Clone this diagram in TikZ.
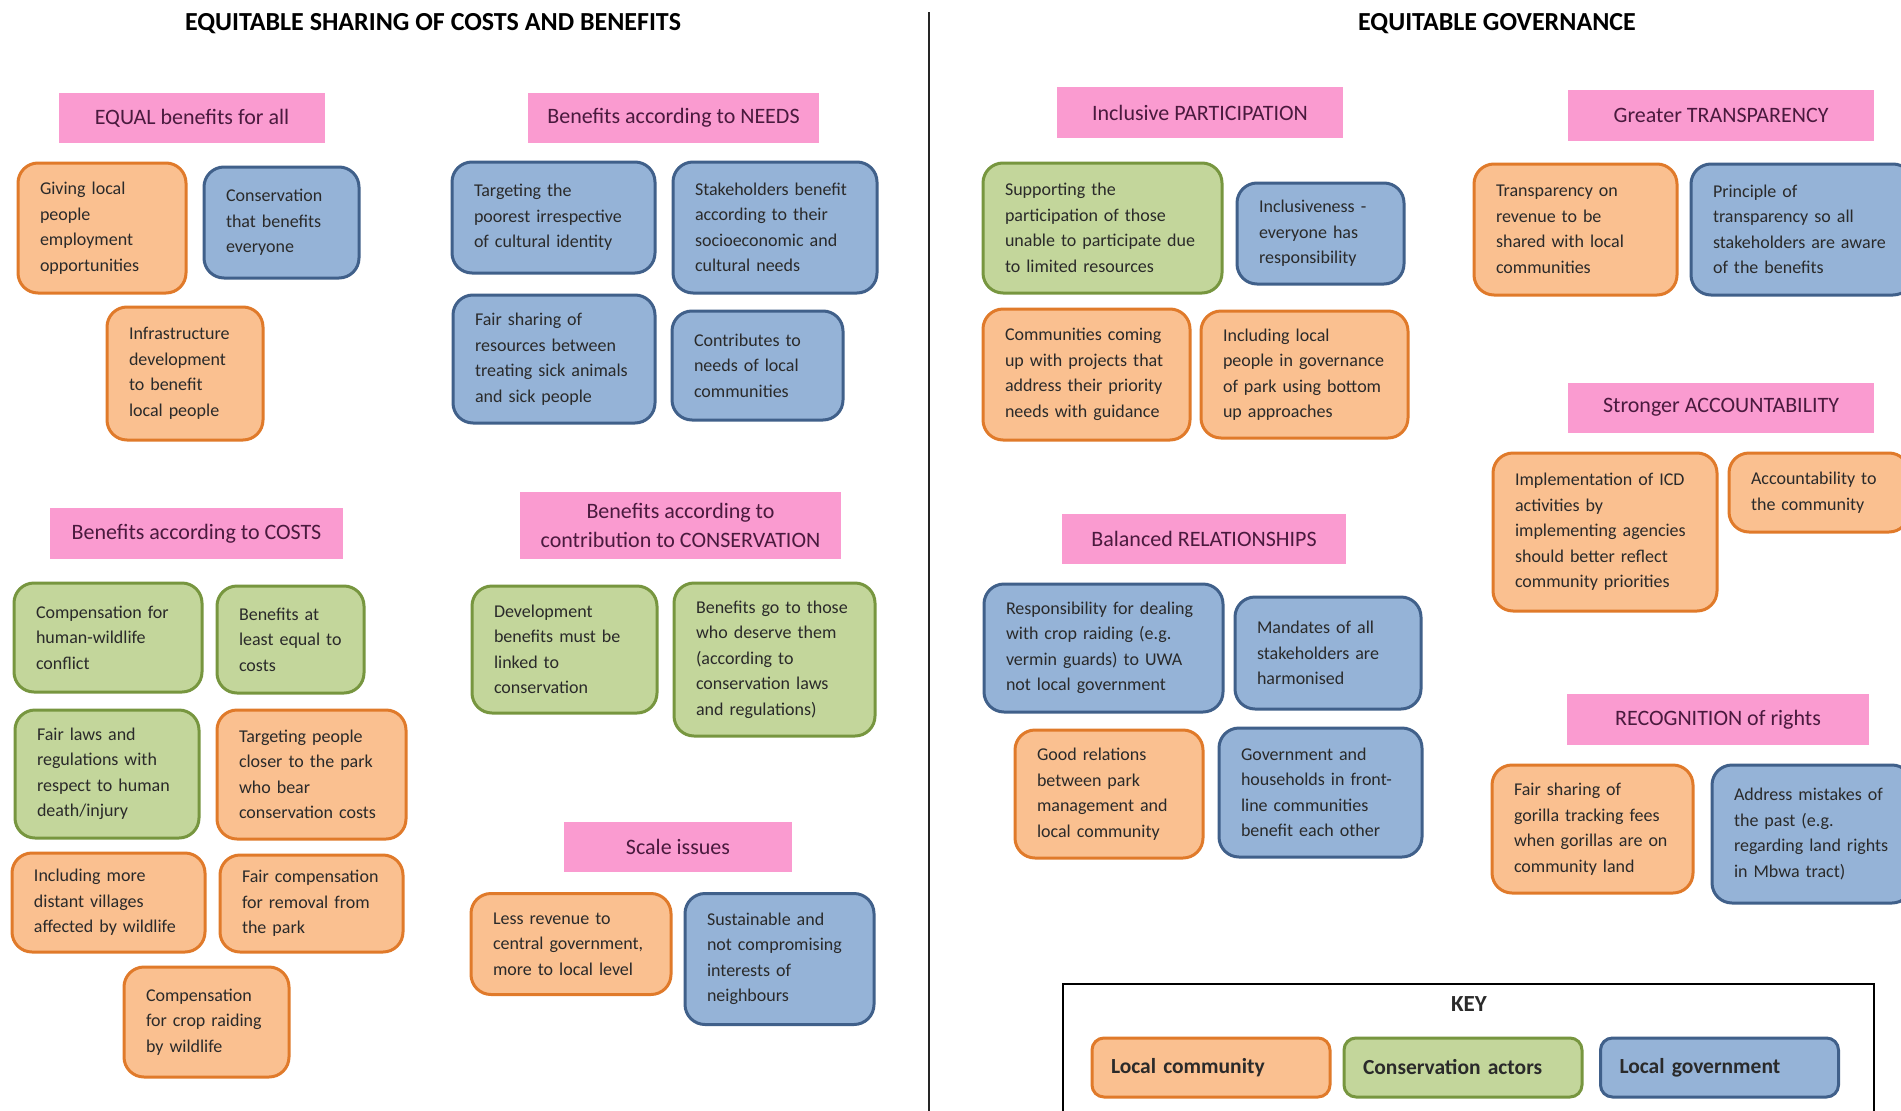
\documentclass[tikz,border=0pt]{standalone}
\usepackage{fontspec}
\setmainfont{Carlito}
\definecolor{commfill}{HTML}{FAC090}
\definecolor{commline}{HTML}{E07A2A}
\definecolor{consfill}{HTML}{C3D69B}
\definecolor{consline}{HTML}{77963F}
\definecolor{govfill}{HTML}{95B3D7}
\definecolor{govline}{HTML}{40608A}
\definecolor{pinkfill}{HTML}{FA9BD0}
\definecolor{pinktext}{HTML}{4A1A3E}
\definecolor{boxtext}{HTML}{2A2A2A}
\tikzset{idea/.style 2 args={draw,line width=3pt,rounded corners=20pt,minimum width=#1pt,minimum height=#2pt,text width={#1pt-44pt},inner xsep=22pt,inner ysep=4pt,align=left,text=boxtext,font=\fontsize{18}{25.5}\selectfont}}
\tikzset{comm/.style={fill=commfill,draw=commline},cons/.style={fill=consfill,draw=consline},gov/.style={fill=govfill,draw=govline}}
\tikzset{heading/.style 2 args={fill=pinkfill,minimum width=#1pt,minimum height=#2pt,inner sep=0pt,align=center,text=pinktext,font=\fontsize{22}{29}\selectfont}}
\tikzset{sechead/.style={font=\fontsize{26}{30}\selectfont\bfseries,text=black}}
\tikzset{keybox/.style={draw,line width=3pt,rounded corners=12pt,minimum width=238pt,minimum height=59pt,text width=200pt,inner xsep=19pt,align=left,text=boxtext,font=\fontsize{21.5}{24}\selectfont\bfseries}}

\begin{document}
\begin{tikzpicture}[x=1pt,y=-1pt]
	\useasboundingbox[fill=white] (0,0) rectangle (1901,1111);
	\coordinate (divtop) at (929,12);
	\coordinate (divbot) at (929,1111);
	\draw[line width=2.5pt,black!85] (divtop) -- (divbot);
	\node[sechead] (lhead) at (433,24) {EQUITABLE SHARING OF COSTS AND BENEFITS};
	\node[sechead] (rhead) at (1497,24) {EQUITABLE GOVERNANCE};

	\node[heading={266}{50}] (equal) at (192,118) {EQUAL benefits for all};
	\node[idea={168}{130},comm] (giving) at (102,228) {Giving local\\people\\employment\\opportunities};
	\node[idea={155}{111},gov] (consben) at (281.5,222.5) {Conservation\\that benefits\\everyone};
	\node[idea={156}{133},comm] (infra) at (185,373.5) {Infrastructure\\development\\to benefit\\local people};

	\node[heading={291}{50}] (needs) at (673.5,118) {Benefits according to NEEDS};
	\node[idea={203}{111},gov] (poorest) at (553.5,217.5) {Targeting the\\poorest irrespective\\of cultural identity};
	\node[idea={204}{131},gov] (stake) at (775,227.5) {Stakeholders benefit\\according to their\\socioeconomic and\\cultural needs};
	\node[idea={202}{128},gov] (sickness) at (554,359) {Fair sharing of\\resources between\\treating sick animals\\and sick people};
	\node[idea={171}{109},gov] (contrib) at (757.5,365.5) {Contributes to\\needs of local\\communities};

	\node[heading={293}{51}] (costs) at (196.5,533.5) {Benefits according to COSTS};
	\node[idea={188}{109},cons] (hwc) at (108,637.5) {Compensation for\\human-wildlife\\conflict};
	\node[idea={147}{107},cons] (atleast) at (290.5,639.5) {Benefits at\\least equal to\\costs};
	\node[idea={184}{128},cons] (fairlaws) at (107,774) {Fair laws and\\regulations with\\respect to human\\death/injury};
	\node[idea={189}{129},comm] (closer) at (311.5,774.5) {Targeting people\\closer to the park\\who bear\\conservation costs};
	\node[idea={193}{99},comm] (distant) at (108.5,902.5) {Including more\\distant villages\\affected by wildlife};
	\node[idea={183}{97},comm] (removal) at (311.5,903.5) {Fair compensation\\for removal from\\the park};
	\node[idea={165}{110},comm] (crop) at (206.5,1022) {Compensation\\for crop raiding\\by wildlife};

	\node[heading={321}{67}] (contribution) at (680.5,525.5) {Benefits according to\\contribution to CONSERVATION};
	\node[idea={185}{127},cons] (linked) at (564.5,649.5) {Development\\benefits must be\\linked to\\conservation};
	\node[idea={201}{153},cons] (deserve) at (774.5,659.5) {Benefits go to those\\who deserve them\\(according to\\conservation laws\\and regulations)};

	\node[heading={228}{50}] (scale) at (678,847) {Scale issues};
	\node[idea={200}{101},comm] (revenue) at (571,944) {Less revenue to\\central government,\\more to local level};
	\node[idea={189}{131},gov] (sustain) at (779.5,959) {Sustainable and\\not compromising\\interests of\\neighbours};

	\node[heading={286}{51}] (particip) at (1200,112.5) {Inclusive PARTICIPATION};
	\node[idea={239}{130},cons] (support) at (1102.5,228) {Supporting the\\participation of those\\unable to participate due\\to limited resources};
	\node[idea={167}{101},gov] (inclusive) at (1320.5,233.5) {Inclusiveness -\\everyone has\\responsibility};
	\node[idea={207}{131},comm] (projects) at (1086.5,374.5) {Communities coming\\up with projects that\\address their priority\\needs with guidance};
	\node[idea={207}{127},comm] (bottomup) at (1304.5,374.5) {Including local\\people in governance\\of park using bottom\\up approaches};

	\node[heading={306}{51}] (transp) at (1721,115.5) {Greater TRANSPARENCY};
	\node[idea={203}{131},comm] (transrev) at (1575.5,229.5) {Transparency on\\revenue to be\\shared with local\\communities};
	\node[idea={222}{131},gov] (principle) at (1802,229.5) {Principle of\\transparency so all\\stakeholders are aware\\of the benefits};

	\node[heading={306}{50}] (account) at (1721,407.5) {Stronger ACCOUNTABILITY};
	\node[idea={224}{158},comm] (icd) at (1605,532) {Implementation of ICD\\activities by\\implementing agencies\\should better reflect\\community priorities};
	\node[idea={180}{79},comm] (tocomm) at (1819,492.5) {Accountability to\\the community};

	\node[heading={284}{50}] (relations) at (1204,539) {Balanced RELATIONSHIPS};
	\node[idea={239}{128},gov] (raiding) at (1103.5,648) {Responsibility for dealing\\with crop raiding (e.g.\\vermin guards) to UWA\\not local government};
	\node[idea={186}{112},gov] (mandates) at (1328,653) {Mandates of all\\stakeholders are\\harmonised};
	\node[idea={188}{128},comm] (goodrel) at (1109,794) {Good relations\\between park\\management and\\local community};
	\node[idea={203}{129},gov] (frontline) at (1320.5,792.5) {Government and\\households in front-\\line communities\\benefit each other};

	\node[heading={302}{51}] (rights) at (1718,719.5) {RECOGNITION of rights};
	\node[idea={201}{128},comm] (gorilla) at (1592.5,829) {Fair sharing of\\gorilla tracking fees\\when gorillas are on\\community land};
	\node[idea={200}{138},gov] (mistakes) at (1812,834) {Address mistakes of\\the past (e.g.\\regarding land rights\\in Mbwa tract)};

	\node[draw,line width=1.5pt,minimum width=811pt,minimum height=131pt,inner sep=0pt] (keyframe) at (1468.5,1049.5) {};
	\node[font=\fontsize{23}{26}\selectfont\bfseries,text=boxtext] (keylabel) at (1469,1004) {KEY};
	\node[keybox,comm] (keycomm) at (1211,1067.5) {Local community};
	\node[keybox,cons] (keycons) at (1463,1067.5) {Conservation actors};
	\node[keybox,gov] (keygov) at (1719.5,1067.5) {Local government};
\end{tikzpicture}
\end{document}
